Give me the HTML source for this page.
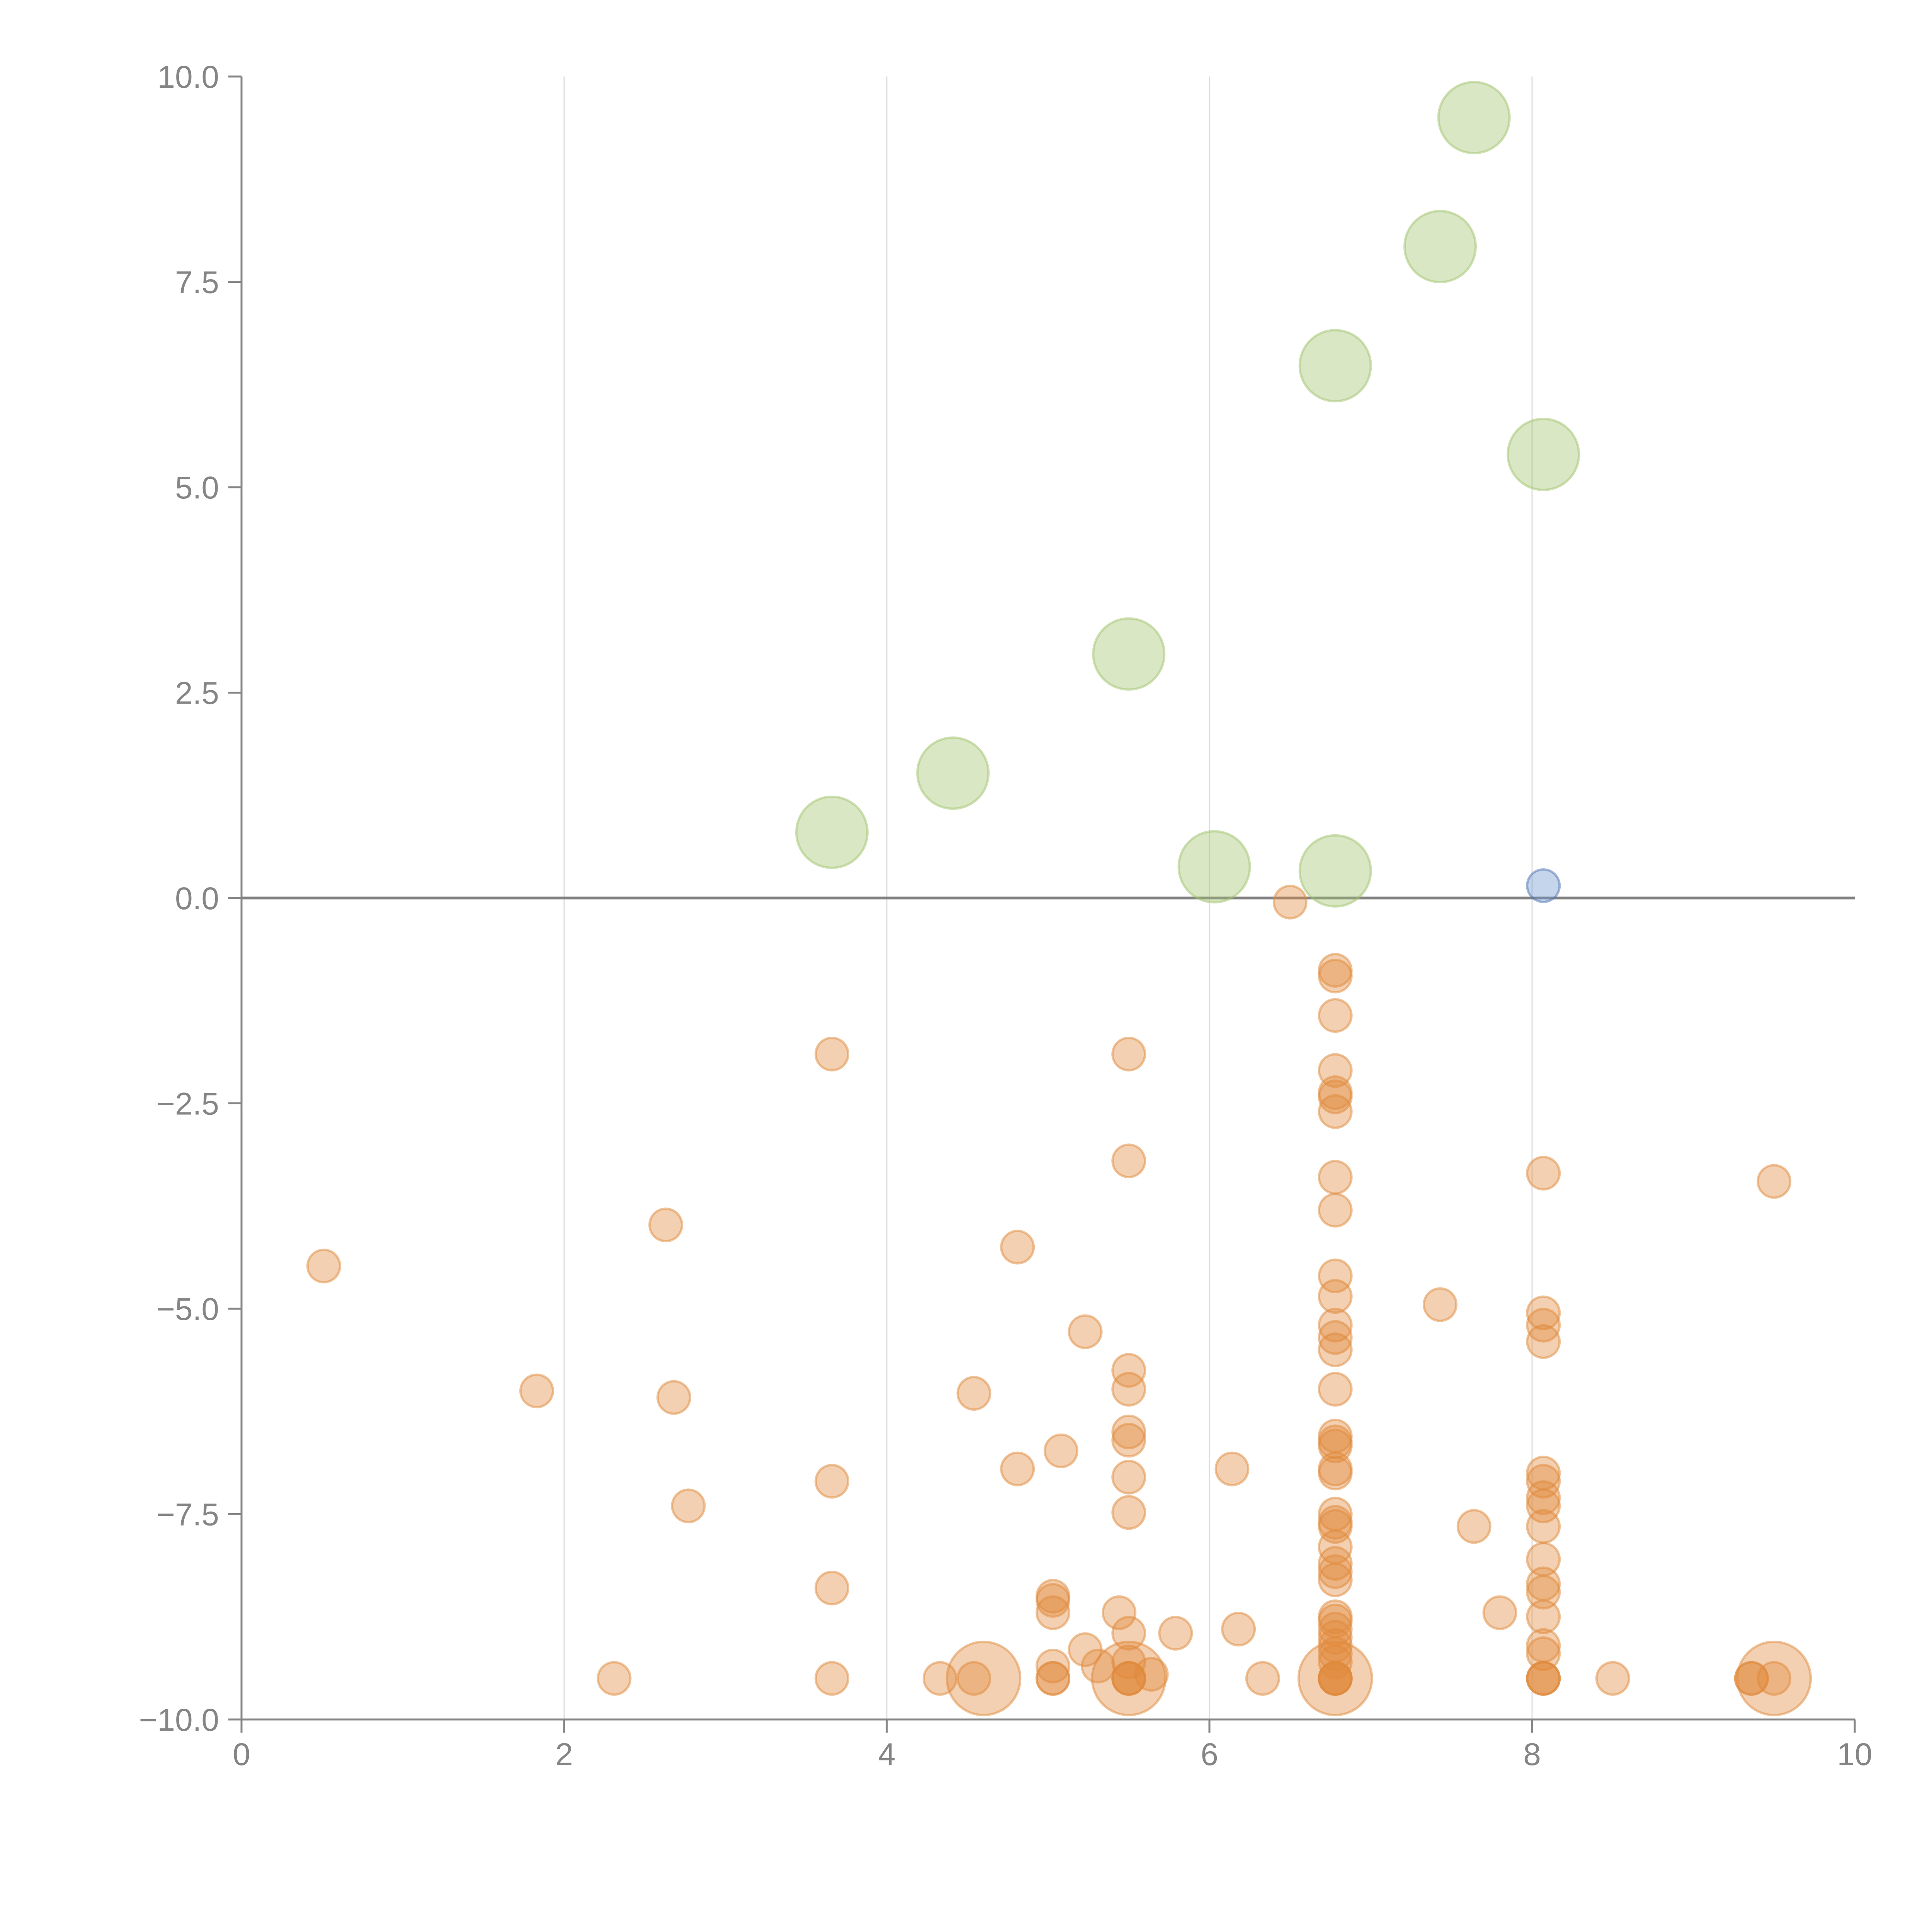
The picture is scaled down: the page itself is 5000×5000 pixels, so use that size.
<!DOCTYPE html>
<html><head><meta charset="utf-8">
<style>
html,body{margin:0;padding:0;background:#fff;}
svg{display:block;}
text{font-family:"Liberation Sans",Arial,sans-serif;}
</style></head>
<body>
<svg id="chart" width="5000" height="5000" viewBox="0 0 5000 5000" xmlns="http://www.w3.org/2000/svg">
<g id="grid"></g>
<g id="axes"></g>
<g id="marks"></g>
</svg>
<script>
const xTicks = [0, 2, 4, 6, 8, 10];
const yTicks = [-10, -7.5, -5, -2.5, 0, 2.5, 5, 7.5, 10];
const yTickLabels = ["\u221210.0", "\u22127.5", "\u22125.0", "\u22122.5", "0.0", "2.5", "5.0", "7.5", "10.0"];

const greenX = [3.66, 4.41, 5.5, 6.03, 6.78, 6.78, 7.43, 7.64, 8.07];
const greenY = [0.8, 1.52, 2.97, 0.38, 0.33, 6.48, 7.93, 9.5, 5.4];
const greenSize = [4.8, 4.8, 4.8, 4.8, 4.8, 4.8, 4.8, 4.8, 4.8];

const blueX = [8.07];
const blueY = [0.15];
const blueSize = [1];

const orangeX = [0.51,1.83,2.31,2.63,2.68,2.77,3.66,3.66,3.66,3.66,4.33,4.54,4.54,4.81,4.81,5.03,5.03,5.03,5.03,5.03,5.03,5.08,5.23,5.23,5.31,5.44,5.5,5.5,5.5,5.5,5.5,5.5,5.5,5.5,5.5,5.5,5.5,5.5,5.5,5.64,5.79,6.14,6.18,6.33,6.5,
6.78,6.78,6.78,6.78,6.78,6.78,6.78,6.78,6.78,6.78,6.78,6.78,6.78,6.78,6.78,6.78,6.78,6.78,6.78,6.78,6.78,6.78,6.78,6.78,6.78,6.78,6.78,6.78,6.78,6.78,6.78,6.78,6.78,6.78,6.78,6.78,6.78,6.78,
7.43,7.64,7.8,
8.07,8.07,8.07,8.07,8.07,8.07,8.07,8.07,8.07,8.07,8.07,8.07,8.07,8.07,8.07,8.07,8.07,8.07,
8.5,9.36,9.36,9.5,9.5];
const orangeY = [-4.48,-6.0,-9.5,-3.98,-6.08,-7.4,-1.9,-7.1,-8.4,-9.5,-9.5,-6.03,-9.5,-4.25,-6.95,-8.5,-8.55,-8.7,-9.35,-9.5,-9.5,-6.73,-5.28,-9.15,-9.35,-8.7,-1.9,-3.2,-5.75,-5.98,-6.5,-6.6,-7.05,-7.48,-8.95,-9.3,-9.5,-9.5,-9.5,-9.45,-8.95,-6.95,-8.9,-9.5,-0.05,
-0.88,-0.95,-1.43,-2.1,-2.37,-2.42,-2.6,-3.4,-3.8,-4.6,-4.85,-5.2,-5.35,-5.5,-5.98,-6.55,-6.62,-6.67,-6.95,-7.0,-7.5,-7.6,-7.65,-7.9,-8.1,-8.2,-8.3,-8.75,-8.8,-8.9,-9.0,-9.1,-9.2,-9.3,-9.5,-9.5,-9.5,-9.5,
-4.95,-7.65,-8.7,
-3.35,-5.05,-5.2,-5.4,-7.0,-7.1,-7.3,-7.4,-7.65,-8.05,-8.35,-8.45,-8.75,-9.1,-9.2,-9.5,-9.5,-9.5,
-9.5,-9.5,-9.5,-3.45,-9.5];

const bigOrangeX = [4.6, 5.5, 6.78, 9.5];
const bigOrangeY = [-9.5, -9.5, -9.5, -9.5];
const bigOrangeSize = [5.1, 5.1, 5.1, 5.1];

const X0 = 625, X1 = 4800, Y0 = 4450, Y1 = 198;
function xs(v){ return X0 + (v - 0) / 10 * (X1 - X0); }
function ys(v){ return Y0 - (v + 10) / 20 * (Y0 - Y1); }
function rs(s){ return 42 * Math.sqrt(s); }

const NS = "http://www.w3.org/2000/svg";
function mk(tag, attrs, parent){
  const e = document.createElementNS(NS, tag);
  for (const k in attrs) e.setAttribute(k, attrs[k]);
  parent.appendChild(e);
  return e;
}
const grid = document.getElementById('grid');
const axes = document.getElementById('axes');
const marks = document.getElementById('marks');

xTicks.forEach(function(t){
  if (t === 0 || t === 10) return;
  const l = mk('line', {x1: xs(t), x2: xs(t), y1: Y1, y2: Y0, stroke: '#dcdcdc', 'stroke-width': 3}, grid);
  
  
});

let a = mk('line', {x1: X0, x2: X0, y1: Y1, y2: Y0, stroke: '#858585', 'stroke-width': 5}, axes);


a = mk('line', {x1: X0, x2: X1, y1: Y0, y2: Y0, stroke: '#858585', 'stroke-width': 5}, axes);



yTicks.forEach(function(t, i){
  const tk = mk('line', {x1: X0 - 34, x2: X0, y1: ys(t), y2: ys(t), stroke: '#858585', 'stroke-width': 5}, axes);
  
  
  const tx = mk('text', {x: X0 - 58, y: ys(t) + 29, 'text-anchor': 'end', 'font-size': 82, fill: '#858585'}, axes);
  tx.textContent = yTickLabels[i];
  
  
});
xTicks.forEach(function(t){
  const tk = mk('line', {x1: xs(t), x2: xs(t), y1: Y0, y2: Y0 + 34, stroke: '#858585', 'stroke-width': 5}, axes);
  
  
  const tx = mk('text', {x: xs(t), y: Y0 + 118, 'text-anchor': 'middle', 'font-size': 82, fill: '#858585'}, axes);
  tx.textContent = String(t);
  
  
});

a = mk('line', {x1: X0, x2: X1, y1: ys(0), y2: ys(0), stroke: '#808080', 'stroke-width': 7}, axes);



function drawSeries(xa, ya, sa, fill, stroke, name){
  for (let i = 0; i < xa.length; i++){
    const c = mk('circle', {cx: xs(xa[i]), cy: ys(ya[i]), r: rs(sa ? sa[i] : 1), fill: fill, 'fill-opacity': 0.4, stroke: stroke, 'stroke-opacity': 0.5, 'stroke-width': 6}, marks);
    
    
  }
}
drawSeries(bigOrangeX, bigOrangeY, bigOrangeSize, '#e08a3c', '#e08a3c', 'bubble-orange-large');
drawSeries(orangeX, orangeY, null, '#e08a3c', '#e08a3c', 'bubble-orange');
drawSeries(greenX, greenY, greenSize, '#a1c46e', '#a1c46e', 'bubble-green');
drawSeries(blueX, blueY, blueSize, '#6f95cf', '#4c72b0', 'bubble-blue');
</script>
</body></html>
